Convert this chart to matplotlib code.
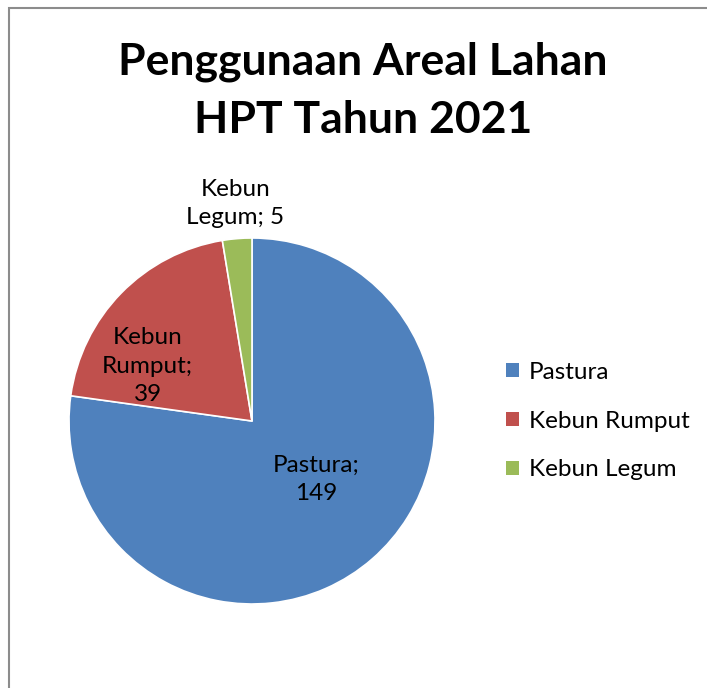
import matplotlib
matplotlib.use("Agg")
import matplotlib.pyplot as plt
from matplotlib.patches import Rectangle, Patch

plt.rcParams['font.family'] = ['Lato', 'DejaVu Sans']

# data
categories = ['Pastura', 'Kebun Rumput', 'Kebun Legum']
values = [149, 39, 5]
colors = ['#4F81BD', '#C0504D', '#9BBB59']
slice_labels = ['Pastura;\n149', 'Kebun\nRumput;\n39', 'Kebun\nLegum; 5']
# label positions in pie units (x, y)
label_pos = [(0.35, -0.32), (-0.57, 0.30), (-0.09, 1.19)]

fig = plt.figure(figsize=(7.07, 6.88), dpi=100)
W, H = 707, 688

# chart border (only top/left visible in the crop)
fig.patches.append(Rectangle((9 / W, -0.1), 1.2, (H - 8) / H + 0.1,
                             transform=fig.transFigure, fill=False,
                             edgecolor='#8c8c8c', linewidth=1.5))

fig.text(363 / W, 1 - 62 / H, 'Penggunaan Areal Lahan', ha='center', va='center',
         fontsize=32, fontweight='bold')
fig.text(363 / W, 1 - 120 / H, 'HPT Tahun 2021', ha='center', va='center',
         fontsize=32, fontweight='bold')

cx, cy, r = 252, 421, 183
ax = fig.add_axes([(cx - r) / W, (H - cy - r) / H, 2 * r / W, 2 * r / H])
ax.pie(values, colors=colors, startangle=90, counterclock=False, radius=1,
       wedgeprops=dict(edgecolor='white', linewidth=1.2))
ax.set_xlim(-1, 1)
ax.set_ylim(-1, 1)
ax.axis('off')

for lbl, (lx, ly) in zip(slice_labels, label_pos):
    ax.text(lx, ly, lbl, ha='center', va='center', fontsize=17.5,
            linespacing=1.42, clip_on=False)

handles = [Patch(facecolor=c, edgecolor='none') for c in colors]
fig.legend(handles, categories, loc='center left',
           bbox_to_anchor=(506 / W, 1 - 421 / H), frameon=False, fontsize=17.5,
           handlelength=0.55, handleheight=0.55, handletextpad=0.4,
           labelspacing=1.15, borderpad=0, borderaxespad=0)

fig.savefig('out.png', dpi=100)
